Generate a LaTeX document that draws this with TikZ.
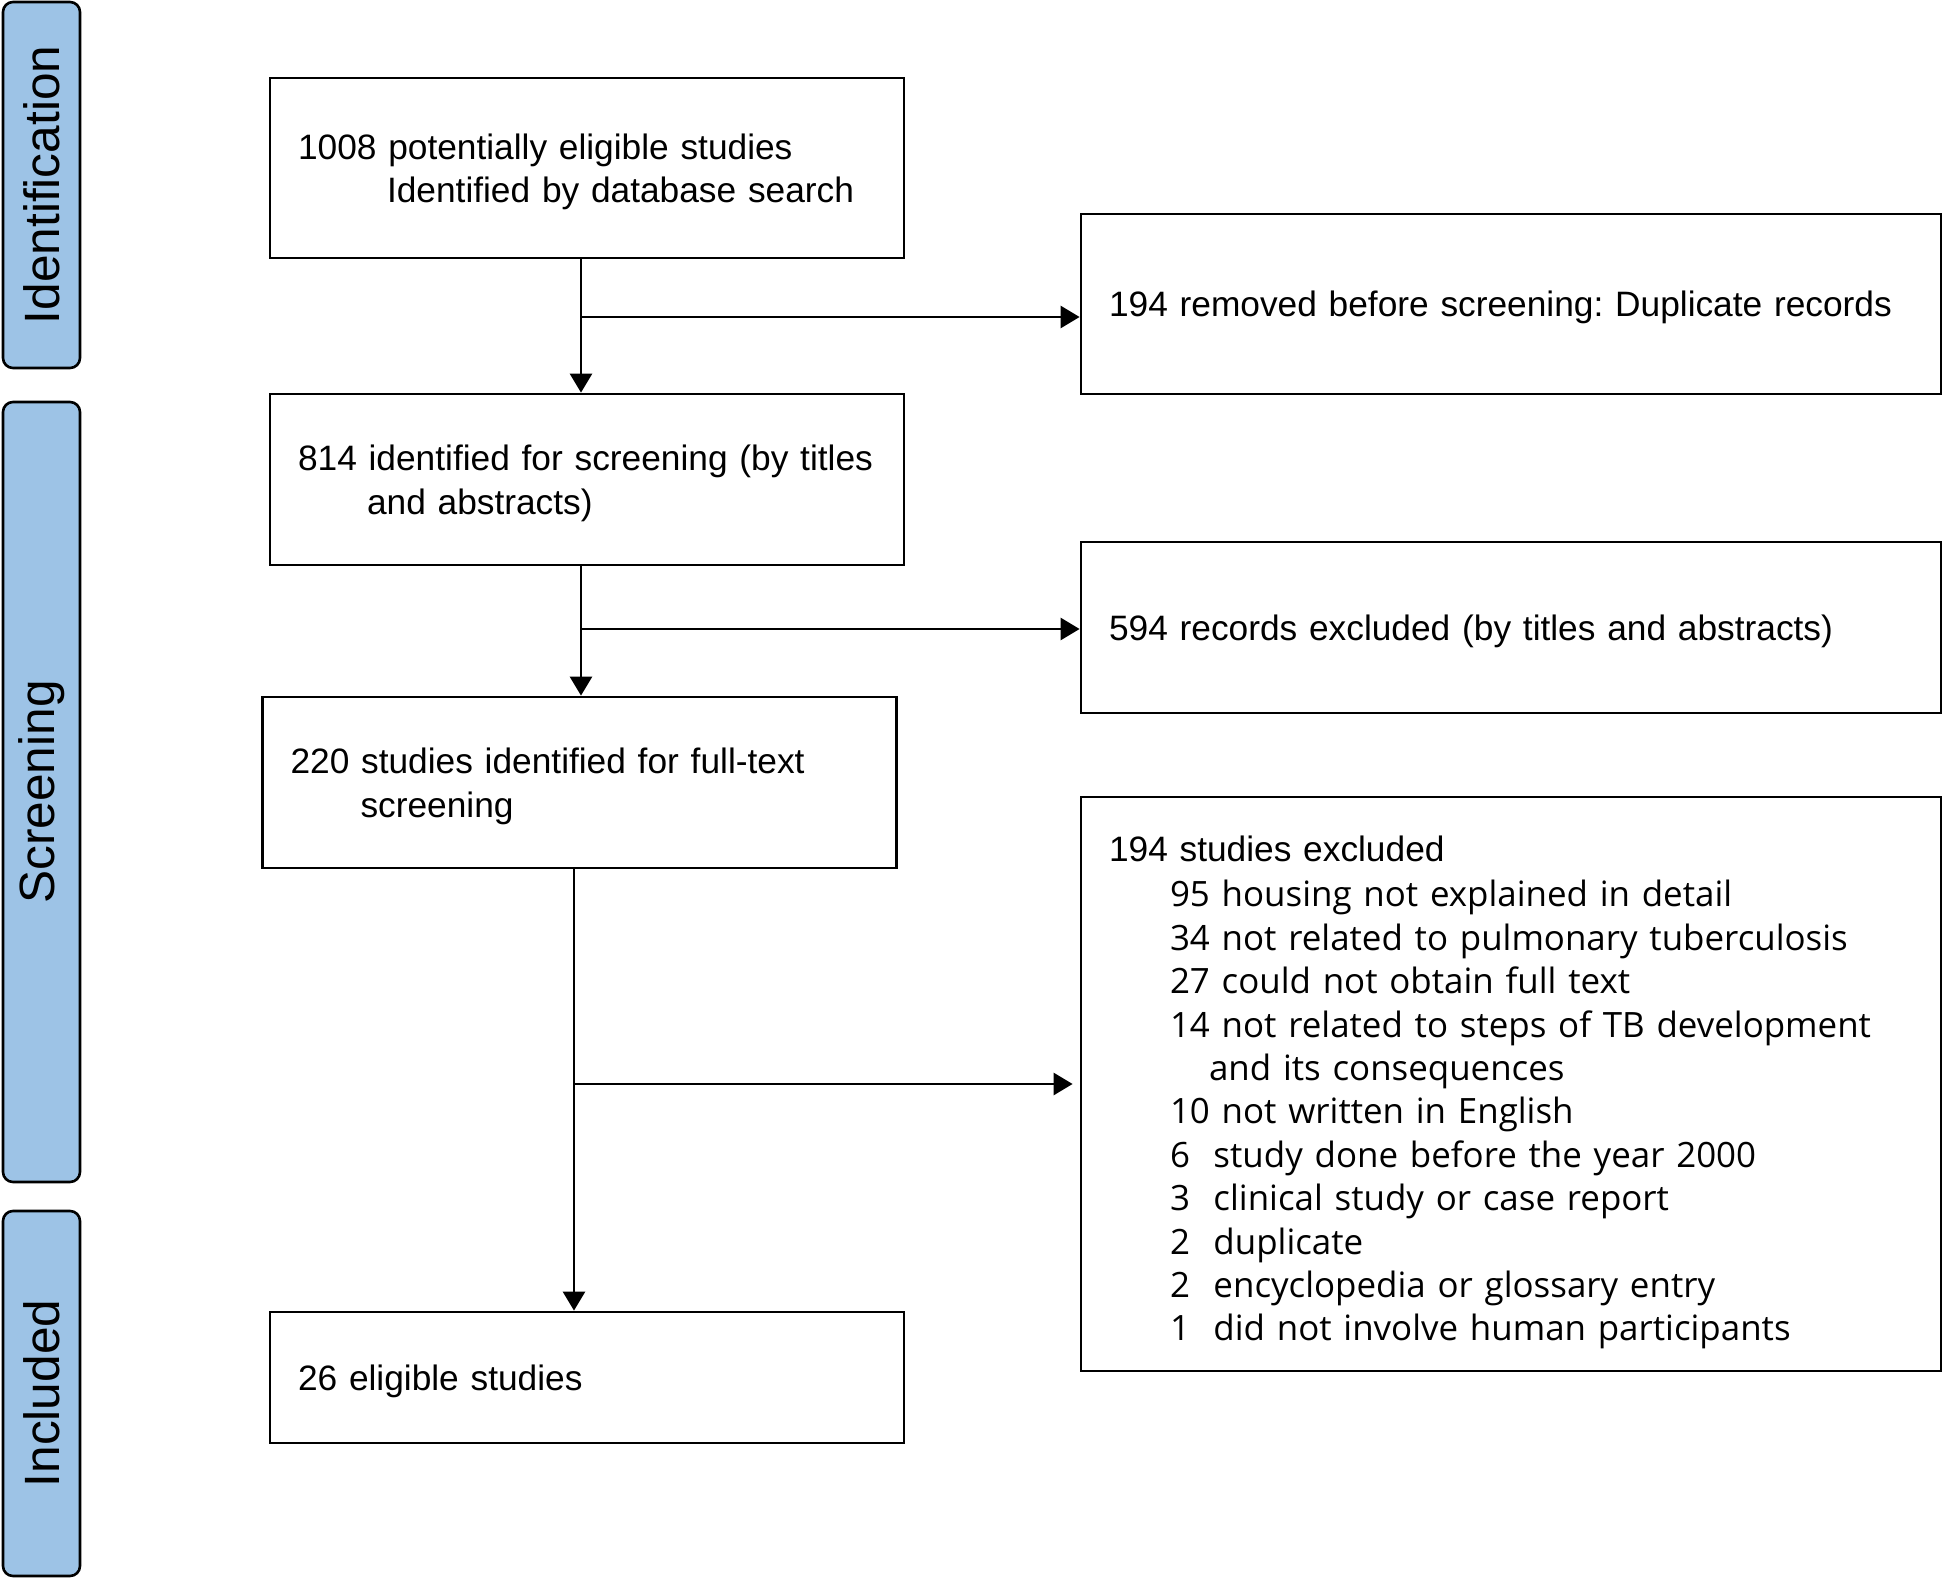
\documentclass[tikz,border=0pt]{standalone}
\usepackage{fontspec}
\setmainfont{Liberation Sans}
\newfontfamily\listfont{Open Sans}
\usepackage{tikz}
\usetikzlibrary{arrows.meta}
\definecolor{phaseblue}{RGB}{157,195,230}
\newcommand{\exline}[2]{\hspace*{#1}{\listfont\fontsize{17.45}{21.7}\selectfont #2}}
\newcommand{\strutup}[1][16.6pt]{\rule{0pt}{#1}}
\frenchspacing

\begin{document}
\begin{tikzpicture}[x=0.5pt,y=-0.5pt,
	flowbox/.style={draw, line width=1.4pt, align=left, inner xsep=14pt, text width=289pt, minimum height=85.5pt, font=\fontsize{17.65}{21.7}\selectfont},
	sidebox/.style={flowbox, text width=402pt},
	phase/.style={draw, line width=1.3pt, fill=phaseblue, rounded corners=5pt, rotate=90, minimum height=38.5pt, inner sep=0pt, font=\fontsize{24.8}{28}\selectfont},
	arr/.style={line width=1.4pt, -{Triangle[length=9.5pt,width=11pt]}}]
		\useasboundingbox (0,0) rectangle (1944,1580);
		% phase labels
		\node[phase, minimum width=183pt] (ident) at (41.5,185) {Identification};
		\node[phase, minimum width=390pt] (screen) at (41.5,792) {Screening};
		\node[phase, minimum width=182.5pt] (incl) at (41.5,1393.5) {Included};
		% main column
		\node[flowbox, minimum height=90pt] (b1) at (587,168) {\strutup 1008 potentially eligible studies\\ \hspace*{44.5pt}Identified by database search};
		\node[flowbox] (b2) at (587,479.5) {\strutup\mbox{814 identified for screening (by titles}\\ \hspace*{34.5pt}and abstracts)};
		\node[flowbox] (b3) at (579.5,782.5) {\strutup 220 studies identified for full-text\\ \hspace*{35pt}screening};
		\node[flowbox, minimum height=65.5pt] (b4) at (587,1377.5) {\strutup 26 eligible studies};
		% exclusions
		\node[sidebox, minimum height=90pt] (rb1) at (1511,304) {\strutup 194 removed before screening: Duplicate records};
		\node[sidebox] (rb2) at (1511,627.5) {\strutup 594 records excluded (by titles and abstracts)};
		\node[sidebox, minimum height=287pt] (rb3) at (1511,1084) {\strutup[21.3pt]194 studies excluded\\[1pt]
			\exline{30.5pt}{95 housing not explained in detail}\\
			\exline{30.5pt}{34 not related to pulmonary tuberculosis}\\
			\exline{30.5pt}{27 could not obtain full text}\\
			\exline{30.5pt}{14 not related to steps of TB development}\\
			\exline{50pt}{and its consequences}\\
			\exline{30.5pt}{10 not written in English}\\
			\exline{30.5pt}{6\ \ study done before the year 2000}\\
			\exline{30.5pt}{3\ \ clinical study or case report}\\
			\exline{30.5pt}{2\ \ duplicate}\\
			\exline{30.5pt}{2\ \ encyclopedia or glossary entry}\\
			\exline{30.5pt}{1\ \ did not involve human participants}};
		% arrows
		\coordinate (s1) at ([xshift=-3pt]b1.south);
		\coordinate (s2) at ([xshift=-3pt]b2.south);
		\coordinate (s3) at ([xshift=-2.75pt]b3.south);
		\coordinate (j1) at (581,317);
		\coordinate (j2) at (581,629);
		\coordinate (j3) at (574,1084);
		\draw[arr] (s1) -- (s1 |- b2.north);
		\draw[arr] (s2) -- (s2 |- b3.north);
		\draw[arr] (s3) -- (s3 |- b4.north);
		\draw[arr] (j1) -- (j1 -| rb1.west);
		\draw[arr] (j2) -- (j2 -| rb2.west);
		\draw[arr, shorten >=3.5pt] (j3) -- (rb3.west);
\end{tikzpicture}
\end{document}
